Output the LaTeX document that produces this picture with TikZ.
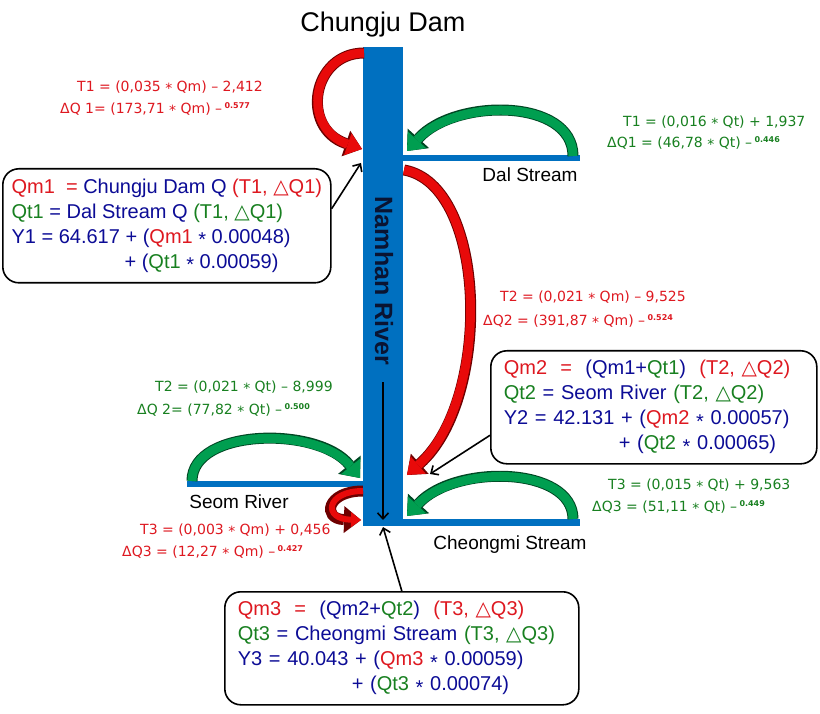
\documentclass[tikz,border=0pt]{standalone}
\usepackage{fontspec}
\setmainfont{Liberation Sans}
\newfontfamily\symfont{DejaVu Sans}
\newfontfamily\eqnfont{DejaVu Sans}
\usetikzlibrary{arrows.meta,positioning}

\definecolor{riverblue}{RGB}{0,112,192}
\definecolor{flowred}{RGB}{232,10,10}
\definecolor{flowredd}{RGB}{110,0,0}
\definecolor{flowgreen}{RGB}{0,158,80}
\definecolor{flowgreend}{RGB}{0,70,35}
\definecolor{tred}{RGB}{222,24,32}
\definecolor{tgreen}{RGB}{24,128,32}
\definecolor{tblue}{RGB}{12,12,150}
\definecolor{namtext}{RGB}{10,20,50}

\newcommand\tms{\raisebox{-0.3ex}{*}}
\newcommand\tri{{\symfont △}}
\newcommand\expo[1]{\,\raisebox{0.55ex}{\fontsize{8}{8}\selectfont\bfseries #1}}

\tikzset{
  eqn/.style={font=\eqnfont\fontsize{14}{17}\selectfont, inner sep=0pt, anchor=west},
  lbl/.style={font=\fontsize{19}{22}\selectfont, inner sep=0pt},
  infobox/.style={draw=black, line width=1.6pt, rounded corners=16pt, fill=white,
    text=tblue, align=left, font=\fontsize{20}{25}\selectfont,
    inner xsep=6pt, inner ysep=4pt, anchor=north west},
  redflow/.style={draw=flowred, line width=9pt,
    -{Triangle[length=15pt,width=23pt,line width=0pt]},
    preaction={draw=flowredd, line width=11pt,
      -{Triangle[length=17pt,width=27pt,line width=0pt]}}},
  greenflow/.style={draw=flowgreen, line width=9pt,
    -{Triangle[length=15pt,width=25pt,line width=0pt]},
    preaction={draw=flowgreend, line width=11pt,
      -{Triangle[length=17pt,width=29pt,line width=0pt]}}},
  pointer/.style={draw=black, line width=1.6pt, -{Straight Barb[length=6pt,width=11pt]}}
}

\begin{document}
\begin{tikzpicture}[x=1pt,y=-1pt]
\useasboundingbox (0,0) rectangle (820,714);

% rivers
\fill[riverblue] (363,47) rectangle (403,526);
\fill[riverblue] (403,155) rectangle (580,161);
\fill[riverblue] (187,481) rectangle (363,487);
\fill[riverblue] (403,519) rectangle (580,526);

\coordinate (in1) at (361,163);
\coordinate (in2) at (430,474);
\coordinate (out3) at (383,527);
\coordinate (flowtop) at (383,382);
\coordinate (flowend) at (383,520);

\node[font=\fontsize{27}{27}\selectfont] (dam) at (383,25) {Chungju Dam};
\node[rotate=-90, font=\bfseries\fontsize{25}{25}\selectfont, text=namtext] (namhan) at (384,281) {Namhan River};
\draw[pointer] (flowtop) -- (flowend);

\node[lbl] (dal) at (530,175) {Dal Stream};
\node[lbl] (seom) at (239,502) {Seom River};
\node[lbl] (cheongmi) at (510,545) {Cheongmi Stream};

% dam releases
\draw[redflow] (364,53) .. controls (312,53) and (300,128) .. (362,149);
\draw[redflow] (404,170) .. controls (488,185) and (492,400) .. (407,475);
\draw[redflow, line width=6pt, -{Triangle[length=10pt,width=15pt,line width=0pt]},
  preaction={line width=8pt, -{Triangle[length=12pt,width=19pt,line width=0pt]}}]
  (363,491) .. controls (326,491) and (322,519) .. (361,520);

% tributaries
\draw[greenflow] (573,156) .. controls (573,98) and (455,98) .. (407,151);
\draw[greenflow] (192,481) .. controls (192,428) and (318,426) .. (360,478);
\draw[greenflow] (573,519) .. controls (573,466) and (455,464) .. (407,516);

% regressions
\node[eqn, text=tred] (t1m) at (77,87) {T1 = (0,035 \tms{} Qm) – 2,412};
\node[eqn, text=tred] (q1m) at (60,109) {ΔQ 1= (173,71 \tms{} Qm) –\expo{0.577}};
\node[eqn, text=tgreen] (t1t) at (623,122) {T1 = (0,016 \tms{} Qt) + 1,937};
\node[eqn, text=tgreen] (q1t) at (607,143) {ΔQ1 = (46,78 \tms{} Qt) –\expo{0.446}};
\node[eqn, text=tred] (t2m) at (500,297) {T2 = (0,021 \tms{} Qm) – 9,525};
\node[eqn, text=tred] (q2m) at (483,321) {ΔQ2 = (391,87 \tms{} Qm) –\expo{0.524}};
\node[eqn, text=tgreen] (t2t) at (155,387) {T2 = (0,021 \tms{} Qt) – 8,999};
\node[eqn, text=tgreen] (q2t) at (137,410) {ΔQ 2= (77,82 \tms{} Qt) –\expo{0.500}};
\node[eqn, text=tred] (t3m) at (140,530) {T3 = (0,003 \tms{} Qm) + 0,456};
\node[eqn, text=tred] (q3m) at (122,552) {ΔQ3 = (12,27 \tms{} Qm) –\expo{0.427}};
\node[eqn, text=tgreen] (t3t) at (608,485) {T3 = (0,015 \tms{} Qt) + 9,563};
\node[eqn, text=tgreen] (q3t) at (592,507) {ΔQ3 = (51,11 \tms{} Qt) –\expo{0.449}};

% models
\node[infobox, minimum width=328pt, minimum height=114pt] (box1) at (2,168)
  {\textcolor{tred}{Qm1 \ =}\ Chungju Dam Q \textcolor{tred}{(T1, \tri Q1)}\\
   \textcolor{tgreen}{Qt1} = Dal Stream Q \textcolor{tgreen}{(T1, \tri Q1)}\\
   Y1 = 64.617 + (\textcolor{tred}{Qm1} \tms{} 0.00048)\\
   \hspace*{113pt}+ (\textcolor{tgreen}{Qt1} \tms{} 0.00059)};
\node[infobox, minimum width=326pt, minimum height=113pt, text width=300pt, inner xsep=13pt] (box2) at (490,350)
  {\textcolor{tred}{Qm2 \ = }\ (Qm1+\textcolor{tgreen}{Qt1}) \ \textcolor{tred}{(T2, \tri Q2)}\\
   \textcolor{tgreen}{Qt2} = Seom River \textcolor{tgreen}{(T2, \tri Q2)}\\
   Y2 = 42.131 + (\textcolor{tred}{Qm2} \tms{} 0.00057)\\
   \hspace*{115pt}+ (\textcolor{tgreen}{Qt2} \tms{} 0.00065)};
\node[infobox, minimum width=354pt, minimum height=113pt, text width=328pt, inner xsep=13pt] (box3) at (224,591)
  {\textcolor{tred}{Qm3 \ = }\ (Qm2+\textcolor{tgreen}{Qt2}) \ \textcolor{tred}{(T3, \tri Q3)}\\
   \textcolor{tgreen}{Qt3} = Cheongmi Stream \textcolor{tgreen}{(T3, \tri Q3)}\\
   Y3 = 40.043 + (\textcolor{tred}{Qm3} \tms{} 0.00059)\\
   \hspace*{114pt}+ (\textcolor{tgreen}{Qt3} \tms{} 0.00074)};

\draw[pointer] ([yshift=17pt]box1.east) -- (in1);
\draw[pointer] ([yshift=-28pt]box2.west) -- (in2);
\draw[pointer] (box3.north) -- (out3);
\end{tikzpicture}
\end{document}
